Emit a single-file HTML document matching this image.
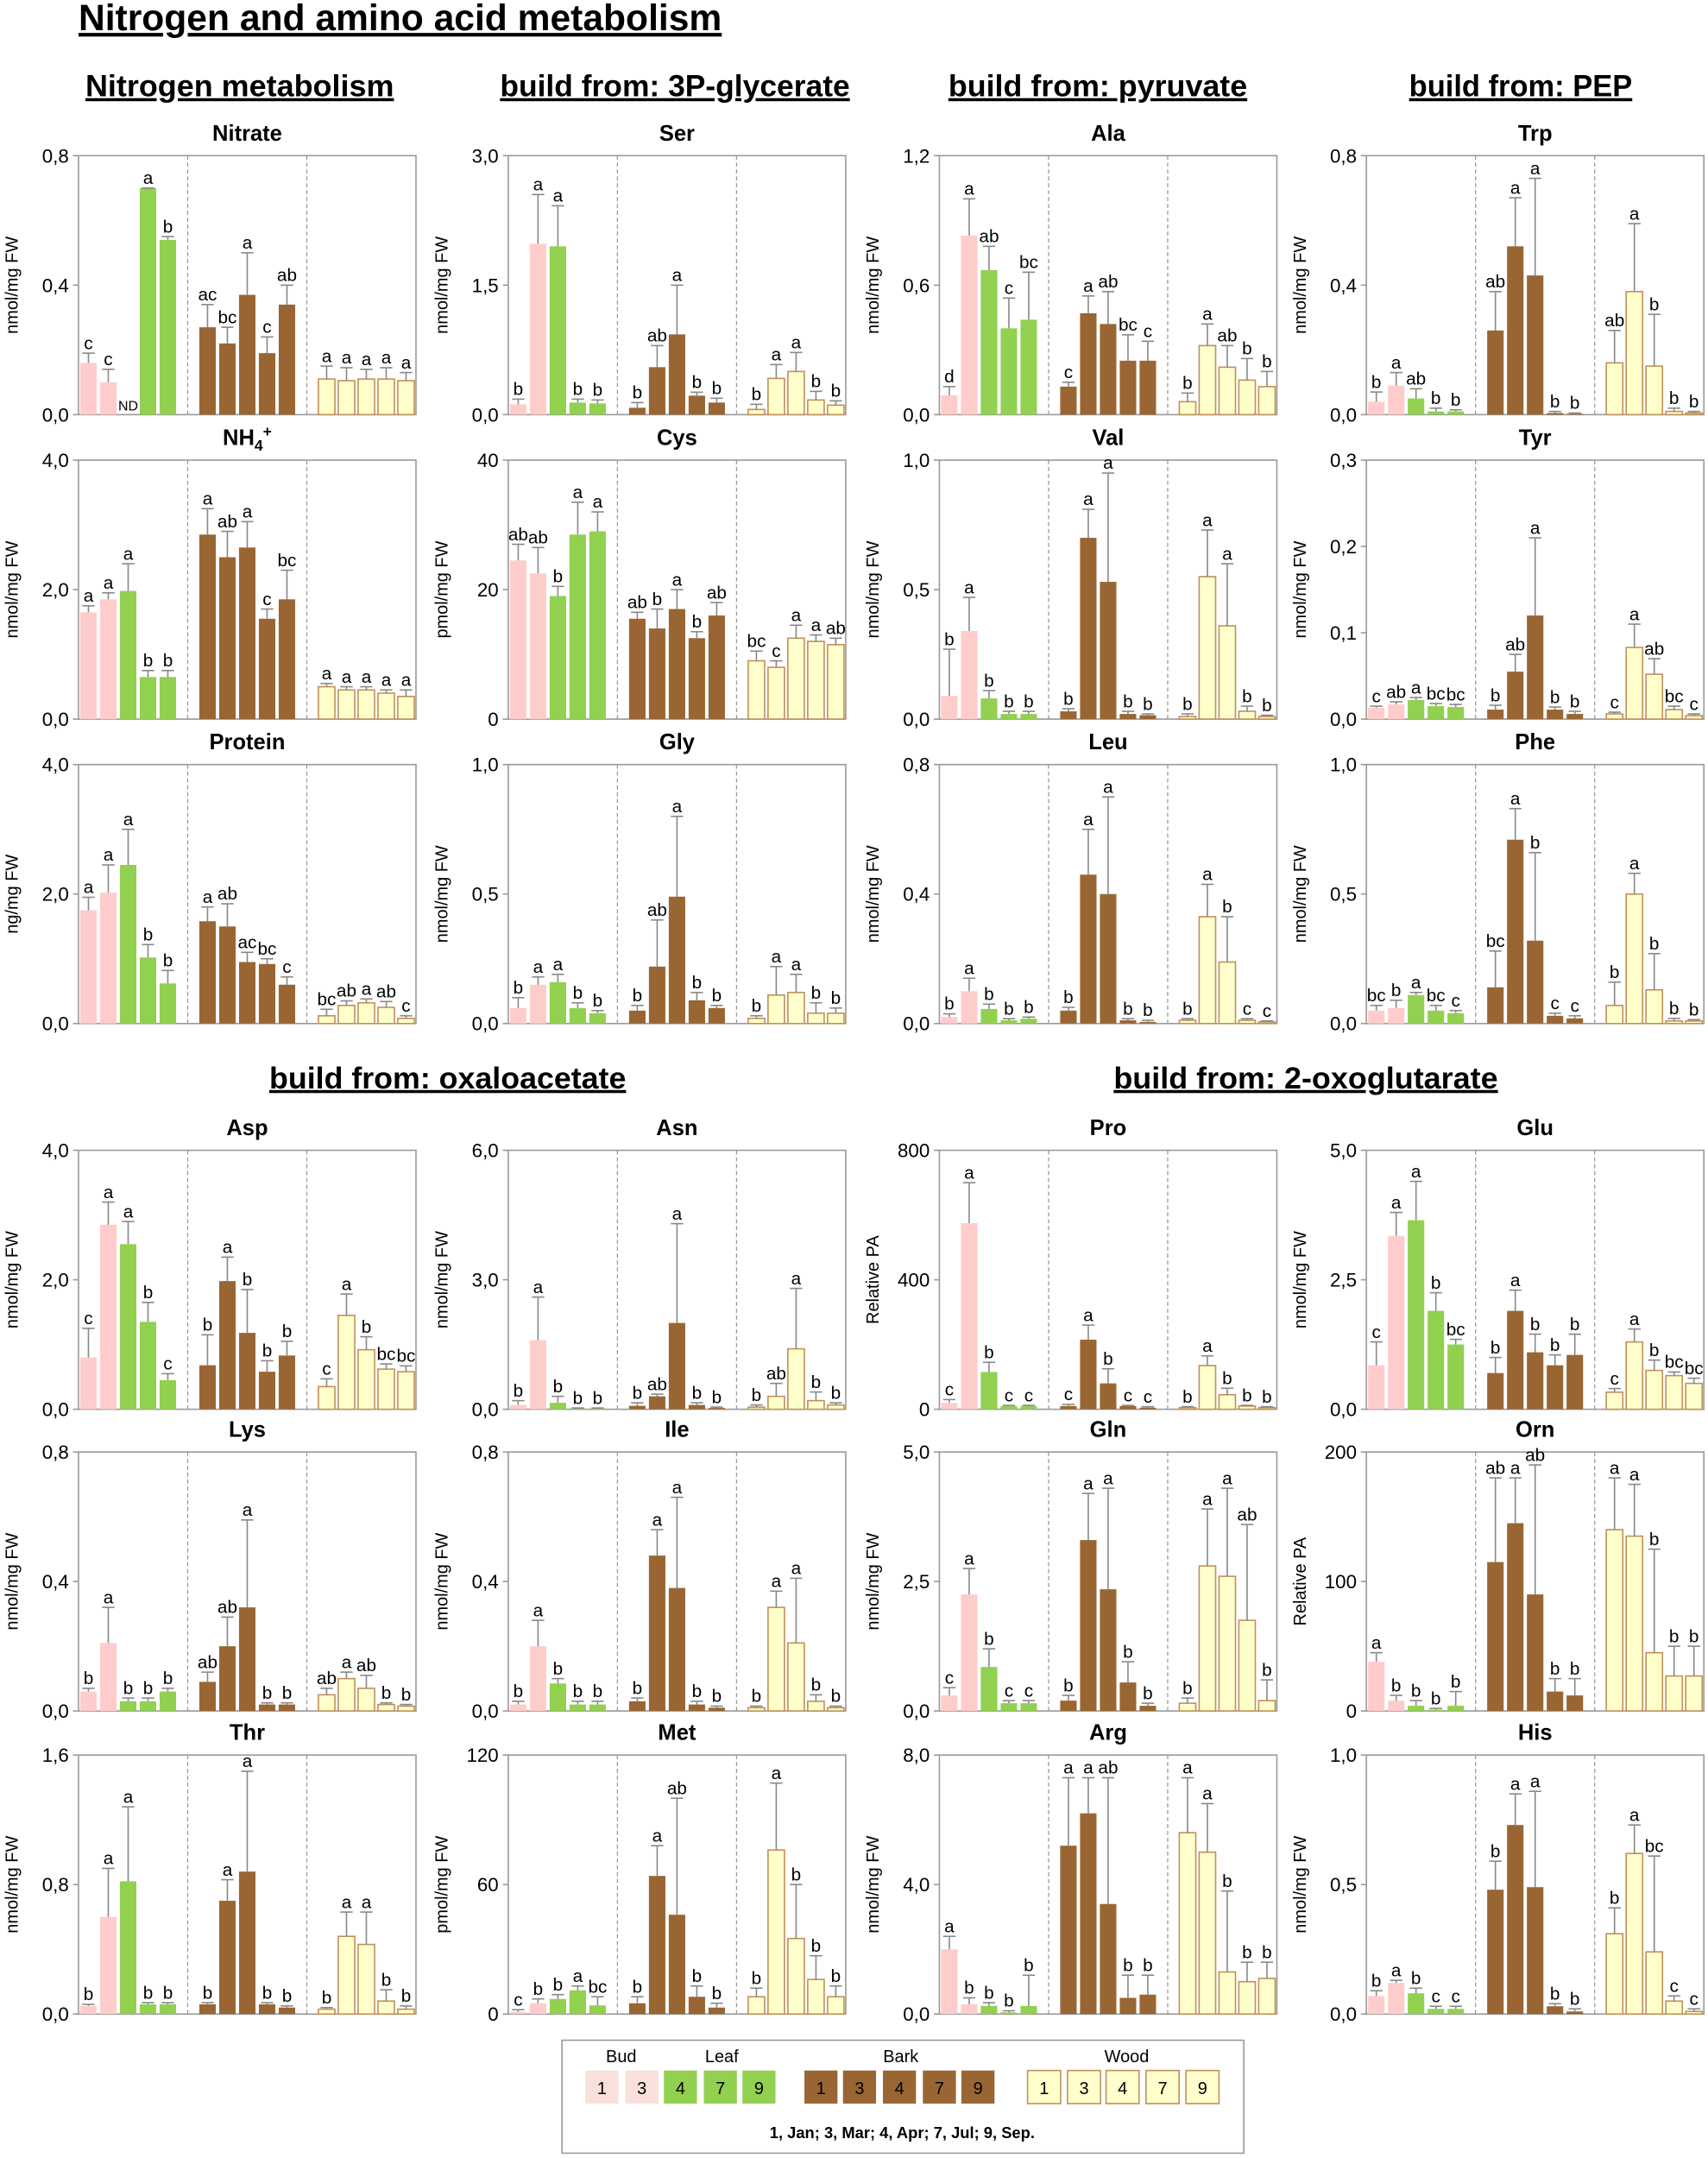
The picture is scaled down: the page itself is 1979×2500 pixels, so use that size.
<!DOCTYPE html>
<html><head><meta charset="utf-8">
<style>
html,body{margin:0;padding:0;background:#fff;}
svg{display:block;font-family:"Liberation Sans",sans-serif;}
</style></head>
<body>
<svg id="fig" width="1979" height="2500" viewBox="0 0 1240 1566.5" preserveAspectRatio="none" xmlns="http://www.w3.org/2000/svg">
<text x="57" y="22" font-size="26.5" font-weight="bold" text-decoration="underline" textLength="467" lengthAdjust="spacingAndGlyphs">Nitrogen and amino acid metabolism</text>
<g id="headers"></g>
<g id="charts"></g>
<g id="legend">
<rect x="408" y="1481" width="495" height="82" fill="#fff" stroke="#999" stroke-width="1"/>
</g>
</svg>
<script>
const chartTitles = ["Nitrate","Ser","Ala","Trp","NH4+","Cys","Val","Tyr","Protein","Gly","Leu","Phe","Asp","Asn","Pro","Glu","Lys","Ile","Gln","Orn","Thr","Met","Arg","His"];
const chartUnits = ["nmol/mg FW","nmol/mg FW","nmol/mg FW","nmol/mg FW","nmol/mg FW","pmol/mg FW","nmol/mg FW","nmol/mg FW","ng/mg FW","nmol/mg FW","nmol/mg FW","nmol/mg FW","nmol/mg FW","nmol/mg FW","Relative PA","nmol/mg FW","nmol/mg FW","nmol/mg FW","nmol/mg FW","Relative PA","nmol/mg FW","pmol/mg FW","nmol/mg FW","nmol/mg FW"];
const chartMax = [0.8,3,1.2,0.8,4,40,1,0.3,4,1,0.8,1,4,6,800,5,0.8,0.8,5,200,1.6,120,8,1];
const chartTicks = [
["0,0","0,4","0,8"],["0,0","1,5","3,0"],["0,0","0,6","1,2"],["0,0","0,4","0,8"],
["0,0","2,0","4,0"],["0","20","40"],["0,0","0,5","1,0"],["0,0","0,1","0,2","0,3"],
["0,0","2,0","4,0"],["0,0","0,5","1,0"],["0,0","0,4","0,8"],["0,0","0,5","1,0"],
["0,0","2,0","4,0"],["0,0","3,0","6,0"],["0","400","800"],["0,0","2,5","5,0"],
["0,0","0,4","0,8"],["0,0","0,4","0,8"],["0,0","2,5","5,0"],["0","100","200"],
["0,0","0,8","1,6"],["0","60","120"],["0,0","4,0","8,0"],["0,0","0,5","1,0"]];
const chartValues = [
[0.16,0.10,null,0.70,0.54, 0.27,0.22,0.37,0.19,0.34, 0.11,0.105,0.11,0.11,0.105],
[0.12,1.98,1.95,0.14,0.13, 0.08,0.55,0.93,0.22,0.14, 0.06,0.42,0.50,0.17,0.11],
[0.09,0.83,0.67,0.40,0.44, 0.13,0.47,0.42,0.25,0.25, 0.06,0.32,0.22,0.16,0.13],
[0.04,0.09,0.05,0.01,0.01, 0.26,0.52,0.43,0.005,0.003, 0.16,0.38,0.15,0.01,0.005],
[1.65,1.85,1.98,0.65,0.65, 2.85,2.50,2.65,1.55,1.85, 0.50,0.45,0.45,0.40,0.35],
[24.5,22.5,19,28.5,29, 15.5,14,17,12.5,16, 9,8,12.5,12,11.5],
[0.09,0.34,0.08,0.02,0.02, 0.03,0.70,0.53,0.02,0.015, 0.01,0.55,0.36,0.03,0.01],
[0.013,0.017,0.022,0.015,0.014, 0.011,0.055,0.12,0.011,0.006, 0.006,0.083,0.052,0.011,0.004],
[1.75,2.02,2.45,1.02,0.62, 1.58,1.50,0.95,0.92,0.60, 0.12,0.28,0.32,0.25,0.08],
[0.06,0.15,0.16,0.06,0.04, 0.05,0.22,0.49,0.09,0.06, 0.02,0.11,0.12,0.04,0.04],
[0.02,0.10,0.045,0.01,0.015, 0.04,0.46,0.40,0.01,0.005, 0.01,0.33,0.19,0.01,0.005],
[0.05,0.06,0.11,0.05,0.04, 0.14,0.71,0.32,0.03,0.02, 0.07,0.50,0.13,0.01,0.01],
[0.80,2.85,2.55,1.35,0.45, 0.68,1.98,1.18,0.58,0.83, 0.35,1.45,0.92,0.62,0.58],
[0.1,1.6,0.15,0.02,0.02, 0.08,0.3,2.0,0.1,0.03, 0.05,0.3,1.4,0.2,0.1],
[20,575,115,10,10, 10,215,80,10,5, 5,135,45,10,5],
[0.85,3.35,3.65,1.90,1.25, 0.70,1.90,1.10,0.85,1.05, 0.33,1.30,0.75,0.65,0.50],
[0.06,0.21,0.03,0.03,0.06, 0.09,0.20,0.32,0.02,0.02, 0.05,0.10,0.07,0.02,0.015],
[0.02,0.20,0.085,0.02,0.02, 0.03,0.48,0.38,0.02,0.01, 0.01,0.32,0.21,0.03,0.01],
[0.3,2.25,0.85,0.15,0.15, 0.2,3.3,2.35,0.55,0.1, 0.15,2.8,2.6,1.75,0.2],
[38,8,4,1,4, 115,145,90,15,12, 140,135,45,27,27],
[0.05,0.60,0.82,0.06,0.06, 0.06,0.70,0.88,0.06,0.04, 0.03,0.48,0.43,0.08,0.03],
[1,5,7,11,4, 5,64,46,8,3, 8,76,35,16,8],
[2.0,0.3,0.25,0.05,0.25, 5.2,6.2,3.4,0.5,0.6, 5.6,5.0,1.3,1.0,1.1],
[0.07,0.12,0.08,0.02,0.02, 0.48,0.73,0.49,0.03,0.01, 0.31,0.62,0.24,0.05,0.01]];
const chartErrors = [
[0.19,0.14,null,0.70,0.55, 0.34,0.27,0.50,0.24,0.40, 0.15,0.145,0.14,0.145,0.13],
[0.18,2.55,2.42,0.18,0.17, 0.14,0.80,1.50,0.26,0.19, 0.12,0.58,0.72,0.27,0.16],
[0.13,1.00,0.78,0.54,0.66, 0.15,0.55,0.57,0.37,0.34, 0.10,0.42,0.32,0.26,0.20],
[0.07,0.13,0.08,0.02,0.015, 0.38,0.67,0.73,0.01,0.005, 0.26,0.59,0.31,0.02,0.01],
[1.75,1.95,2.40,0.75,0.75, 3.25,2.90,3.05,1.70,2.30, 0.55,0.50,0.50,0.45,0.45],
[27,26.5,20.5,33.5,32, 16.5,17,20,13.5,18, 10.5,9,14.5,13,12.5],
[0.27,0.47,0.11,0.03,0.03, 0.04,0.81,0.95,0.03,0.02, 0.02,0.73,0.60,0.05,0.015],
[0.015,0.02,0.025,0.018,0.017, 0.016,0.075,0.21,0.014,0.009, 0.008,0.11,0.07,0.015,0.006],
[1.95,2.45,3.0,1.22,0.82, 1.80,1.85,1.10,1.00,0.72, 0.22,0.35,0.38,0.34,0.12],
[0.10,0.18,0.19,0.08,0.05, 0.07,0.40,0.80,0.12,0.07, 0.03,0.22,0.19,0.08,0.06],
[0.03,0.14,0.06,0.015,0.02, 0.05,0.60,0.70,0.015,0.01, 0.015,0.43,0.33,0.015,0.008],
[0.07,0.09,0.12,0.07,0.05, 0.28,0.83,0.66,0.04,0.03, 0.16,0.58,0.27,0.02,0.015],
[1.25,3.20,2.90,1.65,0.55, 1.15,2.35,1.85,0.75,1.05, 0.47,1.78,1.12,0.70,0.67],
[0.2,2.6,0.3,0.03,0.03, 0.15,0.35,4.3,0.15,0.05, 0.1,0.6,2.8,0.4,0.15],
[30,700,145,12,12, 15,260,125,12,8, 8,165,65,12,8],
[1.30,3.80,4.40,2.25,1.35, 1.00,2.30,1.45,1.05,1.45, 0.40,1.55,0.95,0.72,0.60],
[0.07,0.32,0.04,0.04,0.07, 0.12,0.29,0.59,0.025,0.025, 0.07,0.12,0.11,0.025,0.02],
[0.03,0.28,0.10,0.03,0.03, 0.04,0.56,0.66,0.03,0.015, 0.015,0.37,0.41,0.05,0.015],
[0.45,2.75,1.2,0.2,0.2, 0.3,4.2,4.3,0.95,0.15, 0.25,3.9,4.3,3.6,0.6],
[45,12,8,2,15, 180,180,190,25,25, 180,175,125,50,50],
[0.06,0.90,1.28,0.07,0.07, 0.07,0.83,1.50,0.07,0.05, 0.04,0.63,0.63,0.15,0.05],
[2,7,9,13,8, 8,78,100,13,5, 12,107,60,27,13],
[2.4,0.5,0.35,0.1,1.2, 7.3,7.3,7.3,1.2,1.2, 7.3,6.5,3.8,1.6,1.6],
[0.09,0.13,0.10,0.03,0.03, 0.59,0.85,0.86,0.04,0.02, 0.41,0.73,0.61,0.07,0.02]];
const chartLetters = [
["c","c","","a","b","ac","bc","a","c","ab","a","a","a","a","a"],
["b","a","a","b","b","b","ab","a","b","b","b","a","a","b","b"],
["d","a","ab","c","bc","c","a","ab","bc","c","b","a","ab","b","b"],
["b","a","ab","b","b","ab","a","a","b","b","ab","a","b","b","b"],
["a","a","a","b","b","a","ab","a","c","bc","a","a","a","a","a"],
["ab","ab","b","a","a","ab","b","a","b","ab","bc","c","a","a","ab"],
["b","a","b","b","b","b","a","a","b","b","b","a","a","b","b"],
["c","ab","a","bc","bc","b","ab","a","b","b","c","a","ab","bc","c"],
["a","a","a","b","b","a","ab","ac","bc","c","bc","ab","a","ab","c"],
["b","a","a","b","b","b","ab","a","b","b","b","a","a","b","b"],
["b","a","b","b","b","b","a","a","b","b","b","a","b","c","c"],
["bc","b","a","bc","c","bc","a","b","c","c","b","a","b","b","b"],
["c","a","a","b","c","b","a","b","b","b","c","a","b","bc","bc"],
["b","a","b","b","b","b","ab","a","b","b","b","ab","a","b","b"],
["c","a","b","c","c","c","a","b","c","c","b","a","b","b","b"],
["c","a","a","b","bc","b","a","b","b","b","c","a","b","bc","bc"],
["b","a","b","b","b","ab","ab","a","b","b","ab","a","ab","b","b"],
["b","a","b","b","b","b","a","a","b","b","b","a","a","b","b"],
["c","a","b","c","c","b","a","a","b","b","b","a","a","ab","b"],
["a","b","b","b","b","ab","a","ab","b","b","a","a","b","b","b"],
["b","a","a","b","b","b","a","a","b","b","b","a","a","b","b"],
["c","b","b","a","bc","b","a","ab","b","b","b","a","b","b","b"],
["a","b","b","b","b","a","a","ab","b","b","a","a","b","b","b"],
["b","a","b","c","c","b","a","a","b","b","b","a","bc","c","c"]];
const sectionHeaders = ["Nitrogen metabolism","build from: 3P-glycerate","build from: pyruvate","build from: PEP","build from: oxaloacetate","build from: 2-oxoglutarate"];

const NS = "http://www.w3.org/2000/svg";
const colX = [57,369,682,992];
const rowY = [113,334,555,835,1054,1274];
const PW = 245, PH = 188;
function mk(tag, attrs, parent){const e=document.createElementNS(NS,tag);for(const k in attrs)e.setAttribute(k,attrs[k]);parent.appendChild(e);return e;}
function fillOf(i){if(i<2)return ["#FFCCCC","none"];if(i<5)return ["#92D050","none"];if(i<10)return ["#996633","none"];return ["#FFFFCC","#C0905A"];}

const hg=document.getElementById('headers');
const hpos=[[174,70],[490,70],[797,70],[1104,70],[325,790],[948,790]];
const hlen=[224,254,217,162,259,279];
sectionHeaders.forEach((h,i)=>{
  const t=mk('text',{x:hpos[i][0],y:hpos[i][1],'font-size':22,'font-weight':'bold','text-anchor':'middle','text-decoration':'underline',textLength:hlen[i],lengthAdjust:'spacingAndGlyphs'},hg);
  
  
  t.textContent=h;
});

const cg=document.getElementById('charts');
chartTitles.forEach((title,ci)=>{
  const x0=colX[ci%4], y0=rowY[Math.floor(ci/4)];
  const g=mk('g',{},cg);
  
  
  const max=chartMax[ci];
  const ys=v=>y0+PH-(v/max)*PH;
  const slot=PW/17;
  const xs=i=>x0+(i+Math.floor(i/5)+0.5)*slot;
  const tt=mk('text',{x:x0+PW/2,y:y0-11,'font-size':16,'font-weight':'bold','text-anchor':'middle'},g);
  
  
  if(title==="NH4+"){tt.innerHTML='NH<tspan font-size="11" dy="4">4</tspan><tspan font-size="11" dy="-10">+</tspan>';}
  else tt.textContent=title;
  const fr=mk('rect',{x:x0,y:y0,width:PW,height:PH,fill:'none',stroke:'#999','stroke-width':1},g);
  
  
  [5,11].forEach(s=>{
    const l=mk('line',{x1:x0+(s+0.5)*slot,x2:x0+(s+0.5)*slot,y1:y0,y2:y0+PH,stroke:'#999','stroke-dasharray':'3,2','stroke-width':0.8},g);
    
    
  });
  const ticks=chartTicks[ci];
  ticks.forEach((lab,k)=>{
    const v=max*k/(ticks.length-1);
    const yy=ys(v);
    mk('line',{x1:x0-4,x2:x0,y1:yy,y2:yy,stroke:'#999'},g);
    const tl=mk('text',{x:x0-7,y:yy+5,'font-size':14,'text-anchor':'end'},g);
    
    
    tl.textContent=lab;
  });
  const yl=mk('text',{x:0,y:0,'font-size':12.5,'text-anchor':'middle',transform:`translate(${x0-44},${y0+PH/2}) rotate(-90)`},g);
  
  
  yl.textContent=chartUnits[ci];
  const bw=slot*0.83;
  chartValues[ci].forEach((v,i)=>{
    const cx=xs(i);
    const letter=chartLetters[ci][i];
    if(v===null){
      const nd=mk('text',{x:cx,y:y0+PH-3,'font-size':10,'text-anchor':'middle'},g);
      
      
      nd.textContent='ND';
      return;
    }
    const [f,s]=fillOf(i);
    const b=mk('rect',{x:cx-bw/2,y:ys(v),width:bw,height:y0+PH-ys(v),fill:f,stroke:s,'stroke-width':s==='none'?0:1},g);
    
    
    const e=chartErrors[ci][i];
    const et=Math.max(e,v);
    if(e>v){
      mk('line',{x1:cx,x2:cx,y1:ys(v),y2:ys(e),stroke:'#888','stroke-width':1},g);
    }
    mk('line',{x1:cx-4.5,x2:cx+4.5,y1:ys(et),y2:ys(et),stroke:'#888','stroke-width':1},g);
    const lt=mk('text',{x:cx,y:ys(et)-3,'font-size':13,'text-anchor':'middle'},g);
    
    
    lt.textContent=letter;
  });
});

const lg=document.getElementById('legend');
const legGroups=[["Bud",451],["Leaf",524],["Bark",654],["Wood",818]];
legGroups.forEach(([n,x])=>{
  const t=mk('text',{x:x,y:1497,'font-size':12.5,'text-anchor':'middle'},lg);
  
  
  t.textContent=n;
});
const legItems=[["1","#F9E0DA","none",425],["3","#F9E0DA","none",454],["4","#92D050","none",482],["7","#92D050","none",511],["9","#92D050","none",539],
["1","#996633","none",584],["3","#996633","none",612],["4","#996633","none",641],["7","#996633","none",670],["9","#996633","none",698],
["1","#FFFFCC","#C0905A",746],["3","#FFFFCC","#C0905A",775],["4","#FFFFCC","#C0905A",803],["7","#FFFFCC","#C0905A",832],["9","#FFFFCC","#C0905A",861]];
legItems.forEach(([n,f,s,x])=>{
  const r=mk('rect',{x:x,y:1503,width:24,height:24,fill:f,stroke:s,'stroke-width':s==='none'?0:1},lg);
  
  
  const t=mk('text',{x:x+12,y:1520,'font-size':12.5,'text-anchor':'middle'},lg);
  
  
  t.textContent=n;
});
const cap=mk('text',{x:655,y:1552,'font-size':11.5,'font-weight':'bold','text-anchor':'middle'},lg);


cap.textContent='1, Jan; 3, Mar; 4, Apr; 7, Jul; 9, Sep.';
</script>
</body></html>
